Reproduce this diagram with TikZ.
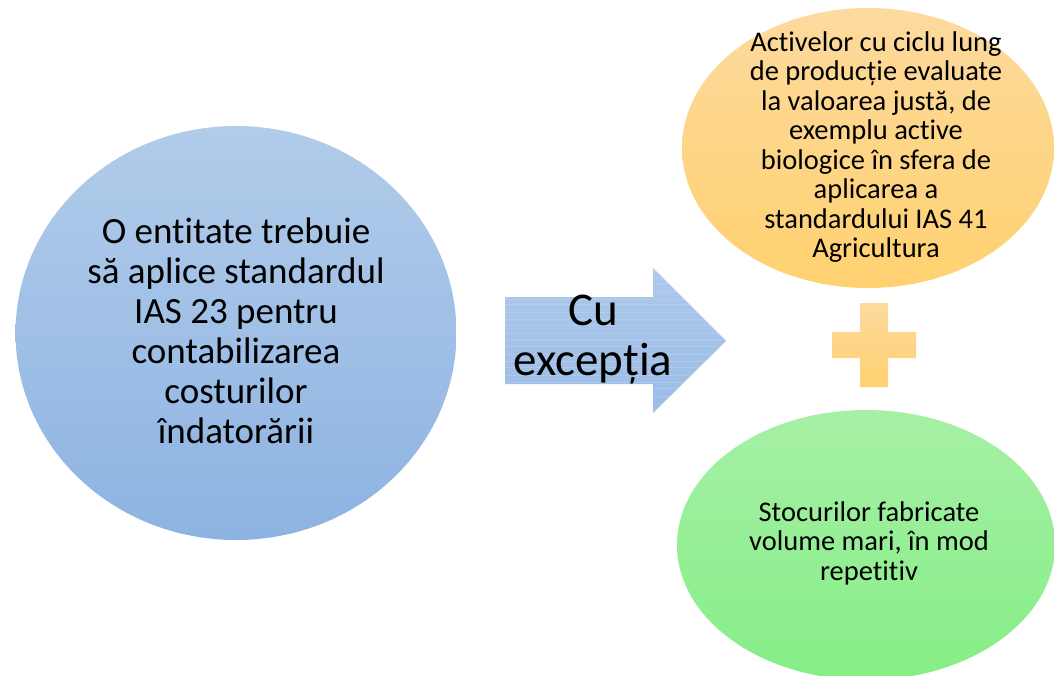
\documentclass[tikz,border=0pt]{standalone}
\usepackage{fontspec}
\setmainfont{Carlito}[Ligatures=NoCommon]
\usepackage{tikz}
\usetikzlibrary{positioning,shapes.geometric}
\usepackage{xcolor}

\definecolor{bluetop}{HTML}{B2CCEA}
\definecolor{bluebot}{HTML}{8DB3E2}
\definecolor{orangetop}{HTML}{FDDA9E}
\definecolor{orangebot}{HTML}{FFD170}
\definecolor{greentop}{HTML}{A6F0A6}
\definecolor{greenbot}{HTML}{86EE86}
\definecolor{arrowtop}{HTML}{ADC9EB}
\definecolor{arrowbot}{HTML}{9CBCE6}

\begin{document}
\begin{tikzpicture}[x=1pt, y=-1pt,
    blob/.style={ellipse, draw=none, inner sep=0pt},
    blobtext/.style={align=center, inner sep=0pt, text=black}]
    \useasboundingbox (0,0) rectangle (1054,675);
    \clip (0,0) rectangle (1054,675);

    % Entity
    \node[blob, minimum width=441pt, minimum height=414pt,
      top color=bluetop, bottom color=bluebot] (entity) at (236,333) {};
    \node[blobtext, font=\fontsize{37}{40}\selectfont] (entitytext) at (236,331)
      {O entitate trebuie\\să aplice standardul\\IAS 23 pentru\\contabilizarea\\costurilor\\îndatorării};

    % Exception arrow
    \path[top color=arrowtop, bottom color=arrowbot]
      (505,297) -- (653,297) -- (653,268) -- (726,341) -- (653,413) -- (653,384) -- (505,384) -- cycle;
    \begin{scope}
      \clip (505,297) -- (653,297) -- (653,268) -- (726,341) -- (653,413) -- (653,384) -- (505,384) -- cycle;
      \foreach \y in {271, 278, 283, 291, 299, 304, 312, 319, 325, 333, 340, 346, 354, 361, 367, 375, 382, 388, 396, 403, 409}
        \draw[white, opacity=.15, line width=.5pt] (505,\y) -- (726,\y);
    \end{scope}
    \node[blobtext, font=\fontsize{47}{50}\selectfont] (cu) at (593,340) {Cu\\excepția};

    % Biological assets
    \node[blob, minimum width=372pt, minimum height=280pt,
      top color=orangetop, bottom color=orangebot] (activ) at (868,148) {};
    \node[blobtext, font=\fontsize{28.5}{29.5}\selectfont] (activtext) at (876,147)
      {Activelor cu ciclu lung\\de producție evaluate\\la valoarea justă, de\\exemplu active\\biologice în sfera de\\aplicarea a\\standardului IAS 41\\Agricultura};

    % Plus
    \path[top color=orangetop, bottom color=orangebot]
      (860,303) -- (888,303) -- (888,332) -- (916,332) -- (916,358) -- (888,358) -- (888,387)
      -- (860,387) -- (860,358) -- (832,358) -- (832,332) -- (860,332) -- cycle;

    % Inventories
    \node[blob, minimum width=378pt, minimum height=270pt,
      top color=greentop, bottom color=greenbot] (stoc) at (866,545) {};
    \node[blobtext, font=\fontsize{28.5}{29.5}\selectfont] (stoctext) at (869,543)
      {Stocurilor fabricate\\volume mari, în mod\\repetitiv};
\end{tikzpicture}
\end{document}
